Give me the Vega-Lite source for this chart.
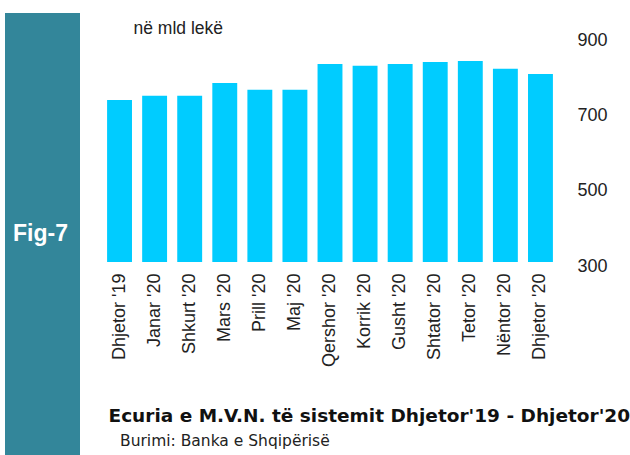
{
  "$schema": "https://vega.github.io/schema/vega-lite/v6.json",
  "padding": {"left": 5, "top": 13, "right": 0, "bottom": 0},
  "background": "white",
  "spacing": 22,
  "config": {"view": {"stroke": null}},
  "hconcat": [
    {
      "width": 75,
      "height": 442,
      "view": {"fill": "#33869A", "stroke": null},
      "data": {"values": [{"label": "Fig-7"}]},
      "mark": {"type": "text", "font": "Liberation Sans", "fontWeight": "bold", "fontSize": 23, "color": "white", "baseline": "middle", "align": "center", "dx": -2},
      "encoding": {"text": {"field": "label", "type": "nominal"}}
    },
    {
      "width": 456,
      "height": 249,
      "title": {"text": "Burimi: Banka e Shqipërisë", "orient": "bottom", "anchor": "start", "dx": 18, "offset": 9, "font": "DejaVu Sans", "fontSize": 15.5, "fontWeight": "normal", "color": "#222"},
      "layer": [
        {
          "data": {"values": [
            {"muaji": "Dhjetor '19", "vlera": 731},
            {"muaji": "Janar '20", "vlera": 742},
            {"muaji": "Shkurt '20", "vlera": 742},
            {"muaji": "Mars '20", "vlera": 776},
            {"muaji": "Prill '20", "vlera": 758},
            {"muaji": "Maj '20", "vlera": 758},
            {"muaji": "Qershor '20", "vlera": 827},
            {"muaji": "Korrik '20", "vlera": 822},
            {"muaji": "Gusht '20", "vlera": 827},
            {"muaji": "Shtator '20", "vlera": 832},
            {"muaji": "Tetor '20", "vlera": 835},
            {"muaji": "Nëntor '20", "vlera": 814},
            {"muaji": "Dhjetor '20", "vlera": 800}
          ]},
          "mark": {"type": "bar", "color": "#00CCFF", "clip": true},
          "encoding": {
            "x": {"field": "muaji", "type": "nominal", "sort": null,
                  "scale": {"paddingInner": 0.29, "paddingOuter": 0.145},
                  "axis": {"title": "Ecuria e M.V.N. të sistemit Dhjetor'19 - Dhjetor'20",
                           "titleFont": "DejaVu Sans", "titleFontSize": 18.5, "titleFontWeight": "bold", "titleColor": "#111",
                           "titleAnchor": "start", "titleAlign": "left", "titleX": 6, "titlePadding": 40,
                           "labelAngle": -90, "labelFont": "Liberation Sans", "labelFontSize": 18, "labelColor": "#222",
                           "labelPadding": 11, "ticks": false, "tickSize": 0, "domain": false}},
            "y": {"field": "vlera", "type": "quantitative",
                  "scale": {"domain": [300, 962.5], "nice": false, "zero": false},
                  "axis": {"orient": "right", "title": null, "values": [300, 500, 700, 900],
                           "grid": false, "domain": false, "ticks": false, "tickSize": 0,
                           "labelFont": "Liberation Sans", "labelFontSize": 18, "labelColor": "#222",
                           "labelPadding": 19, "labelOffset": 4}}
          }
        },
        {
          "data": {"values": [{"shenim": "në mld lekë"}]},
          "mark": {"type": "text", "align": "left", "baseline": "middle", "dx": 14, "font": "Liberation Sans", "fontSize": 17.5, "color": "#222"},
          "encoding": {
            "x": {"datum": "Dhjetor '19", "type": "nominal"},
            "y": {"datum": 920, "type": "quantitative"},
            "text": {"field": "shenim", "type": "nominal"}
          }
        }
      ]
    }
  ]
}
